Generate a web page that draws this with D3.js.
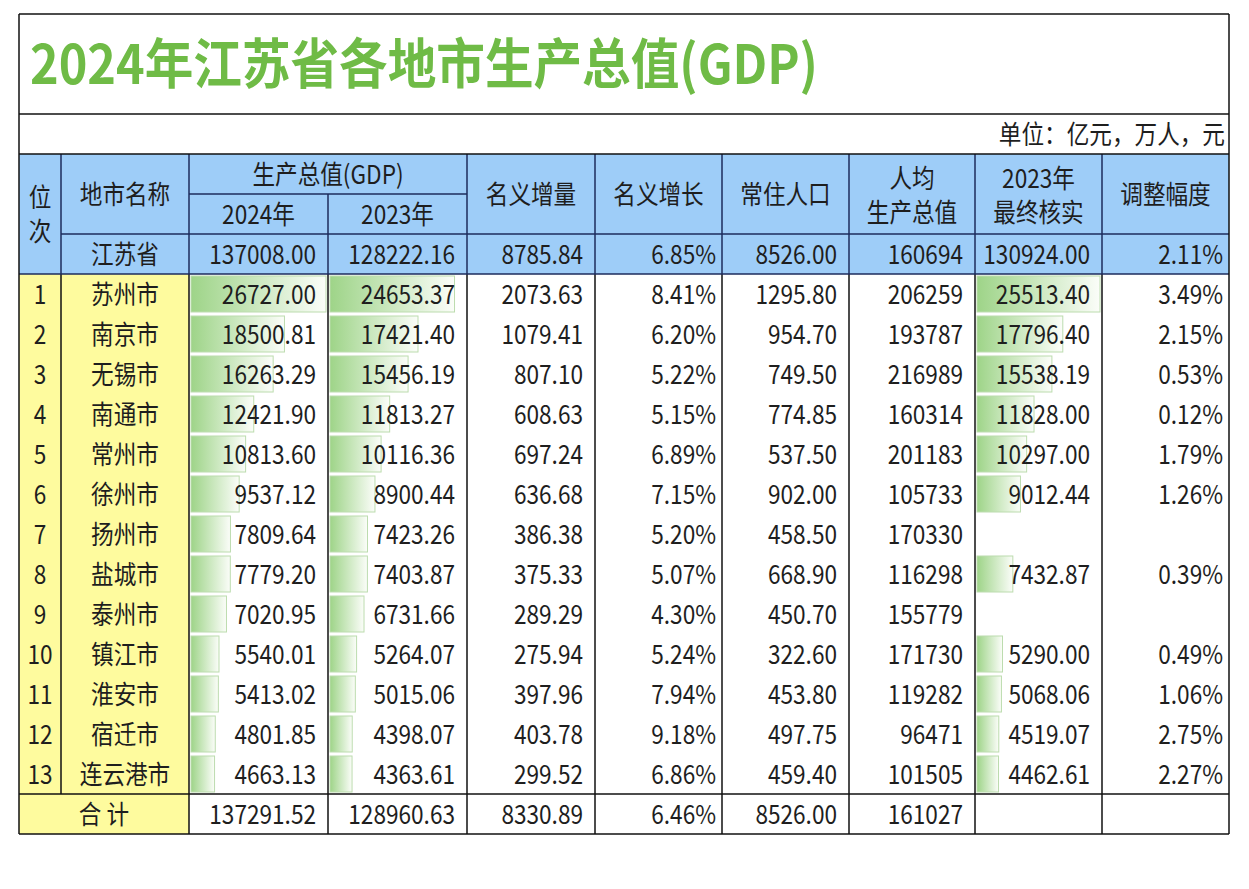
<!DOCTYPE html>
<html><head><meta charset="utf-8">
<script src="https://cdn.jsdelivr.net/npm/d3@7"></script>
<style>body{margin:0;background:#fff}svg{display:block}</style>
</head><body>
<script>
// ---------------- DATA ----------------
const titleText = "2024年江苏省各地市生产总值(GDP)";
const unitText = "单位：亿元，万人，元";
const ranks = [1,2,3,4,5,6,7,8,9,10,11,12,13];
const cities = ["苏州市","南京市","无锡市","南通市","常州市","徐州市","扬州市","盐城市","泰州市","镇江市","淮安市","宿迁市","连云港市"];
const gdp2024 = [26727.00,18500.81,16263.29,12421.90,10813.60,9537.12,7809.64,7779.20,7020.95,5540.01,5413.02,4801.85,4663.13];
const gdp2023 = [24653.37,17421.40,15456.19,11813.27,10116.36,8900.44,7423.26,7403.87,6731.66,5264.07,5015.06,4398.07,4363.61];
const nominalIncrease = [2073.63,1079.41,807.10,608.63,697.24,636.68,386.38,375.33,289.29,275.94,397.96,403.78,299.52];
const nominalGrowth = [8.41,6.20,5.22,5.15,6.89,7.15,5.20,5.07,4.30,5.24,7.94,9.18,6.86];
const population = [1295.80,954.70,749.50,774.85,537.50,902.00,458.50,668.90,450.70,322.60,453.80,497.75,459.40];
const perCapita = [206259,193787,216989,160314,201183,105733,170330,116298,155779,171730,119282,96471,101505];
const final2023 = [25513.40,17796.40,15538.19,11828.00,10297.00,9012.44,null,7432.87,null,5290.00,5068.06,4519.07,4462.61];
const adjustment = [3.49,2.15,0.53,0.12,1.79,1.26,null,0.39,null,0.49,1.06,2.75,2.27];
const provinceName = "江苏省";
const provinceValues = [137008.00,128222.16,8785.84,6.85,8526.00,160694,130924.00,2.11];
const totalLabel = "合 计";
const totalValues = [137291.52,128960.63,8330.89,6.46,8526.00,161027,null,null];

// ---------------- LAYOUT ----------------
const W = 1249, H = 889;
const colX = [19, 61, 189, 328, 467, 595, 722, 849, 975, 1102, 1229];
const tableTop = 14, titleBottom = 114, unitBottom = 154, headMid = 194, headBottom = 234, provBottom = 274, dataBottom = 794, tableBottom = 834;
const FS = 26, SX = 0.87;
const FONT = '"Noto Sans CJK SC","Microsoft YaHei",sans-serif';
const TXT = "#1e1e1e", BLUE = "#9ecdf8", YELLOW = "#fefb9e", NAVY = "#1d2b5c", BLACK = "#111";

const f2 = d3.format(".2f"), f0 = d3.format("d");
const pct = v => f2(v) + "%";
const formats = [f2, f2, f2, pct, f2, f0, f2, pct];
const pads = [12, 12, 12, 6, 12, 12, 12, 6];
const columns = [gdp2024, gdp2023, nominalIncrease, nominalGrowth, population, perCapita, final2023, adjustment];

const svg = d3.select("body").append("svg").attr("width", W).attr("height", H)
  .style("font-family", FONT);

const defs = svg.append("defs");
const grad = defs.append("linearGradient").attr("id", "barGrad").attr("x1", 0).attr("x2", 1).attr("y1", 0).attr("y2", 0);
grad.append("stop").attr("offset", "0%").attr("stop-color", "#9ed488");
grad.append("stop").attr("offset", "100%").attr("stop-color", "#fbfdf9");

const gBg = svg.append("g"), gBars = svg.append("g"),
      gLines = svg.append("g"), gText = svg.append("g");

gBg.append("rect").attr("width", W).attr("height", H).attr("fill", "#fff");
gBg.append("rect").attr("x", colX[0]).attr("y", unitBottom).attr("width", colX[10] - colX[0]).attr("height", provBottom - unitBottom).attr("fill", BLUE);
gBg.append("rect").attr("x", colX[0]).attr("y", provBottom).attr("width", colX[2] - colX[0]).attr("height", tableBottom - provBottom).attr("fill", YELLOW);

// scales
const y = d3.scaleBand().domain(cities).range([provBottom, dataBottom]);
const xGdp = d3.scaleLinear().domain([0, d3.max(gdp2024.concat(gdp2023))]).range([0, colX[3] - colX[2] - 4]);
const xFinal = d3.scaleLinear().domain([0, d3.max(final2023.filter(v => v != null))]).range([0, colX[9] - colX[8] - 4]);

function drawBars(values, colIdx, scale) {
  gBars.selectAll(null).data(values.map((v, i) => ({v, c: cities[i]})).filter(d => d.v != null))
    .join("rect")
    .attr("x", colX[colIdx] + 2)
    .attr("y", d => y(d.c) + 2)
    .attr("width", d => scale(d.v))
    .attr("height", y.bandwidth() - 4)
    .attr("fill", "url(#barGrad)")
    .attr("stroke", "#bcdcae").attr("stroke-width", 1);
}
drawBars(gdp2024, 2, xGdp);
drawBars(gdp2023, 3, xGdp);
drawBars(final2023, 8, xFinal);

// lines
function hline(yy, x1, x2, c) { gLines.append("line").attr("x1", x1).attr("x2", x2).attr("y1", yy).attr("y2", yy).attr("stroke", c).attr("stroke-width", 1.5); }
function vline(xx, y1, y2, c) { gLines.append("line").attr("x1", xx).attr("x2", xx).attr("y1", y1).attr("y2", y2).attr("stroke", c).attr("stroke-width", 1.5); }
colX.slice(1, 10).forEach(x => {
  if (x === colX[3]) vline(x, headMid, provBottom, NAVY); else vline(x, unitBottom, provBottom, NAVY);
  vline(x, provBottom, x === colX[1] ? dataBottom : tableBottom, BLACK);
});
hline(headMid, colX[2], colX[4], NAVY);
hline(headBottom, colX[1], colX[10], NAVY);
hline(provBottom, colX[0], colX[10], NAVY);
[tableTop, titleBottom, unitBottom, dataBottom, tableBottom].forEach(yy => hline(yy, colX[0], colX[10], BLACK));
vline(colX[0], tableTop, tableBottom, BLACK);
vline(colX[10], tableTop, tableBottom, BLACK);

// text helpers
function label(x, yy, s, anchor = "middle") {
  gText.append("text").attr("transform", `translate(${x},${yy}) scale(${SX},1)`)
    .attr("dy", "0.37em").attr("text-anchor", anchor).attr("font-size", FS).attr("fill", TXT).text(s);
}
// two-line label as a single text element (line centres y1, y2)
function label2(x, y1, y2, s1, s2) {
  const t = gText.append("text").attr("transform", `translate(${x},${y1}) scale(${SX},1)`)
    .attr("text-anchor", "middle").attr("font-size", FS).attr("fill", TXT);
  t.append("tspan").attr("x", 0).attr("y", 0).attr("dy", "0.37em").text(s1);
  t.append("tspan").attr("x", 0).attr("y", y2 - y1).attr("dy", "0.37em").text(s2);
}
const mid = i => (colX[i] + colX[i + 1]) / 2;

// title & unit
gText.append("text").attr("x", 30).attr("y", 84).attr("font-size", 54).attr("font-weight", 700)
  .attr("fill", "#6fbb46").attr("textLength", 788).attr("lengthAdjust", "spacingAndGlyphs").text(titleText);
label(1225, 134, unitText, "end");

// headers
label2(mid(0), 197, 231, "位", "次");
label(mid(1), 194, "地市名称");
label((colX[2] + colX[4]) / 2, 174, "生产总值(GDP)");
label(mid(2), 214, "2024年"); label(mid(3), 214, "2023年");
label(mid(4), 194, "名义增量"); label(mid(5), 194, "名义增长"); label(mid(6), 194, "常住人口");
label2(mid(7), 178, 212, "人均", "生产总值");
label2(mid(8), 178, 212, "2023年", "最终核实");
label(mid(9), 194, "调整幅度");

// province row
const provY = (headBottom + provBottom) / 2;
label(mid(1), provY, provinceName);
provinceValues.forEach((v, j) => { if (v != null) label(colX[j + 3] - pads[j], provY, formats[j](v), "end"); });

// data rows
cities.forEach((c, i) => {
  const cy = y(c) + y.bandwidth() / 2;
  label(mid(0), cy, String(ranks[i]));
  label(mid(1), cy, c);
  columns.forEach((col, j) => { const v = col[i]; if (v != null) label(colX[j + 3] - pads[j], cy, formats[j](v), "end"); });
});

// total row
const totY = (dataBottom + tableBottom) / 2;
label((colX[0] + colX[2]) / 2, totY, totalLabel);
totalValues.forEach((v, j) => { if (v != null) label(colX[j + 3] - pads[j], totY, formats[j](v), "end"); });
</script>
</body></html>
